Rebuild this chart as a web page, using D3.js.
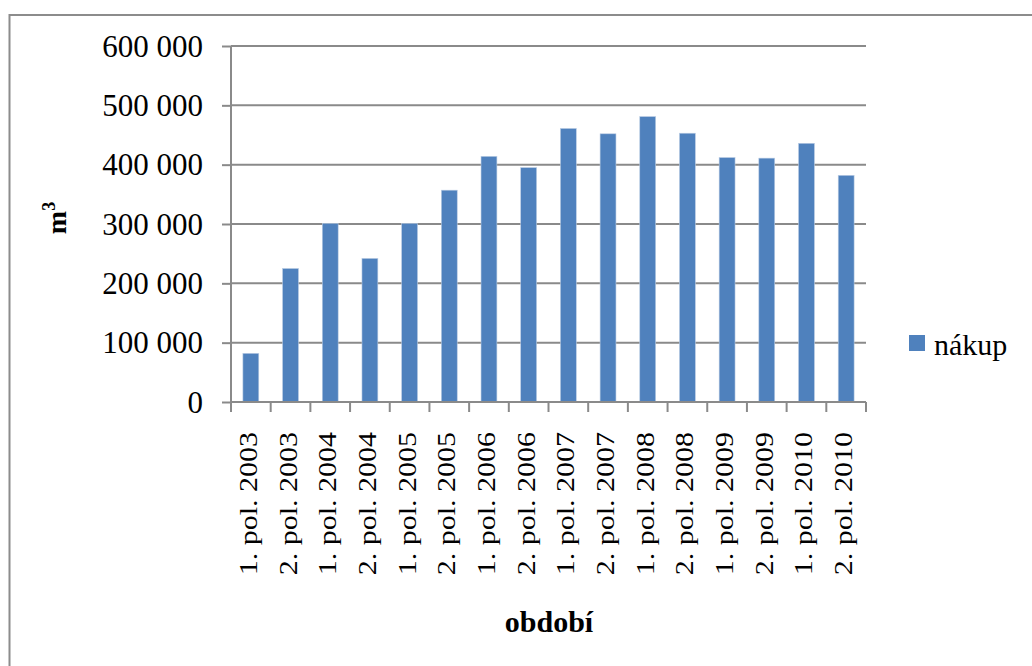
<!DOCTYPE html>
<html>
<head>
<meta charset="utf-8">
<script src="https://cdn.jsdelivr.net/npm/d3@7/dist/d3.min.js"></script>
<style>
  html, body { margin: 0; padding: 0; background: #fff; }
  svg { display: block; }
  text { font-family: "Liberation Serif", "Times New Roman", serif; fill: #000; }
</style>
</head>
<body>
<svg id="chart" width="1032" height="666"></svg>
<script>
const categories = ["1. pol. 2003", "2. pol. 2003", "1. pol. 2004", "2. pol. 2004",
  "1. pol. 2005", "2. pol. 2005", "1. pol. 2006", "2. pol. 2006",
  "1. pol. 2007", "2. pol. 2007", "1. pol. 2008", "2. pol. 2008",
  "1. pol. 2009", "2. pol. 2009", "1. pol. 2010", "2. pol. 2010"];
const nakup = [82000, 225000, 301000, 242000, 301000, 357000, 414000, 395000,
  461000, 452000, 481000, 453000, 412000, 411000, 436000, 382000];
const yTicks = [0, 100000, 200000, 300000, 400000, 500000, 600000];
const seriesName = "nákup";
const xTitle = "období";

const svg = d3.select("#chart");
const pLeft = 231, pRight = 866, pTop = 46, pBottom = 402;
const gridColor = "#8a8a8a";
const barColor = "#4F81BD";

// outer border
svg.append("rect").attr("x", 9.5).attr("y", 15).attr("width", 1040).attr("height", 700)
  .attr("fill", "none").attr("stroke", "#8c8c8c").attr("stroke-width", 2);

const x = d3.scaleBand().domain(categories).range([pLeft, pRight]).padding(0);
const y = d3.scaleLinear().domain([0, 600000]).range([pBottom, pTop]);

const fmt = v => d3.format(",")(v).replace(/,/g, " ");

// gridlines
svg.append("g").selectAll("line").data(yTicks.filter(d => d > 0)).join("line")
  .attr("x1", pLeft).attr("x2", pRight)
  .attr("y1", d => y(d)).attr("y2", d => y(d))
  .attr("stroke", gridColor).attr("stroke-width", 2);

// y axis
const yAxis = svg.append("g").attr("transform", `translate(${pLeft},0)`)
  .call(d3.axisLeft(y).tickValues(yTicks).tickFormat(fmt).tickSize(9).tickPadding(19));
yAxis.select(".domain").attr("stroke", gridColor).attr("stroke-width", 2)
  .attr("d", `M0,${pTop}V${pBottom + 9}`);
yAxis.selectAll(".tick line").attr("stroke", gridColor).attr("stroke-width", 2);
yAxis.selectAll(".tick text").attr("font-size", 31)
  .attr("font-family", "Liberation Serif").attr("fill", "#000").attr("dy", "0.33em");

// bars
const bw = x.bandwidth() / 2.5;
svg.append("g").selectAll("rect").data(nakup).join("rect")
  .attr("x", (d, i) => x(categories[i]) + x.bandwidth() / 2 - bw / 2)
  .attr("width", bw)
  .attr("y", d => y(d))
  .attr("height", d => y(0) - y(d))
  .attr("fill", barColor)
  .attr("stroke", "#b9cbe3").attr("stroke-width", 0.6);

// x axis
const xAxisG = svg.append("g").attr("transform", `translate(0,${pBottom})`);
xAxisG.append("line").attr("x1", pLeft).attr("x2", pRight).attr("y1", 0).attr("y2", 0)
  .attr("stroke", gridColor).attr("stroke-width", 2);
const bounds = categories.map(c => x(c)).concat([pRight]);
xAxisG.selectAll("line.tk").data(bounds).join("line").attr("class", "tk")
  .attr("x1", d => d).attr("x2", d => d).attr("y1", 0).attr("y2", 10)
  .attr("stroke", gridColor).attr("stroke-width", 2);

svg.append("g").selectAll("text").data(categories).join("text")
  .attr("transform", d => `translate(${x(d) + x.bandwidth() / 2 + 6},432) rotate(-90) scale(1,0.82)`)
  .attr("text-anchor", "end")
  .attr("font-size", 30)
  .text(d => d);

// axis titles
svg.append("text").attr("x", 549).attr("y", 632).attr("text-anchor", "middle")
  .attr("font-size", 30).attr("font-weight", "bold").text(xTitle);

const yt = svg.append("text").attr("transform", "translate(66,218) rotate(-90)")
  .attr("text-anchor", "middle").attr("font-size", 28).attr("font-weight", "bold");
yt.append("tspan").text("m");
yt.append("tspan").attr("font-size", 18).attr("dy", "-11").text("3");

// legend
svg.append("rect").attr("x", 909).attr("y", 335).attr("width", 16).attr("height", 16)
  .attr("fill", barColor);
svg.append("text").attr("x", 934).attr("y", 355).attr("font-size", 30).text(seriesName);
</script>
</body>
</html>
